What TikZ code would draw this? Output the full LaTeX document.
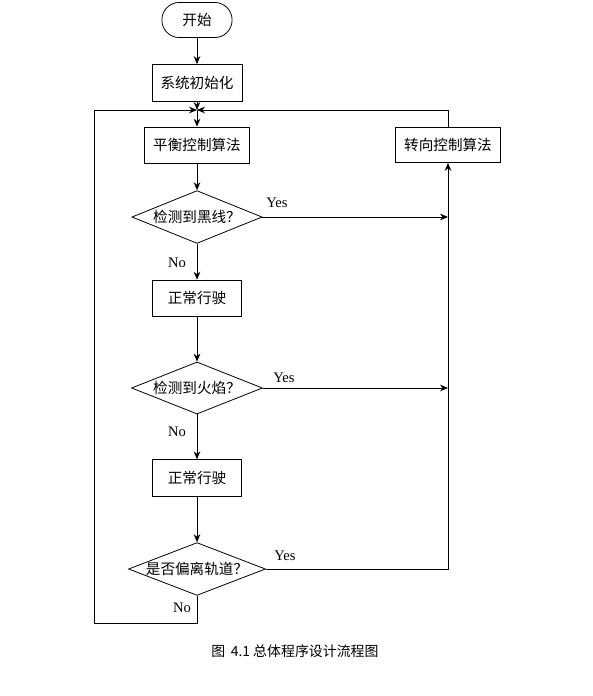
\documentclass[tikz,border=0pt]{standalone}
\usepackage{fontspec}
\setmainfont{Liberation Serif}
\newfontfamily\cjk{Noto Sans CJK SC}
\usepackage{tikz}
\usetikzlibrary{shapes.geometric, arrows.meta}

\begin{document}
\begin{tikzpicture}[x=0.0265cm, y=-0.0265cm, line width=0.6pt, >={Stealth[length=6pt,width=5pt]},
	box/.style={draw, rectangle, inner sep=0pt, font=\cjk\fontsize{11}{13}\selectfont},
	term/.style={box, rounded corners=0.46cm, minimum width=1.86cm, minimum height=0.93cm},
	test/.style={draw, diamond, inner sep=0pt, label={[font=\cjk\fontsize{11}{13}\selectfont]center:#1}},
	yesno/.style={font=\fontsize{11}{13}\selectfont}]
	\useasboundingbox (0,0) rectangle (593,696);
	\node[term] (start) at (197,20) {开始};
	\node[box, minimum width=2.39cm, minimum height=0.98cm] (init) at (197,83) {系统初始化};
	\coordinate (m) at (197,110);
	\node[box, minimum width=2.78cm, minimum height=0.95cm] (bal) at (197,145) {平衡控制算法};
	\node[box, minimum width=2.78cm, minimum height=0.93cm] (turn) at (448,145) {转向控制算法};
	\node[test=检测到黑线？, minimum width=3.45cm, minimum height=1.40cm] (d1) at (197,217) {};
	\node[box, minimum width=2.36cm, minimum height=0.95cm] (run1) at (197,298) {正常行驶};
	\node[test=检测到火焰？, minimum width=3.47cm, minimum height=1.38cm] (d2) at (197,388) {};
	\node[box, minimum width=2.36cm, minimum height=0.97cm] (run2) at (197,478) {正常行驶};
	\node[test=是否偏离轨道？, minimum width=3.63cm, minimum height=1.40cm] (d3) at (197,569) {};
	\coordinate (lb) at (94,623);
	\node[yesno] (y1) at (277,203) {Yes};
	\node[yesno] (y2) at (284,378) {Yes};
	\node[yesno] (y3) at (285,556) {Yes};
	\node[yesno] (n1) at (177,263) {No};
	\node[yesno] (n2) at (177,432) {No};
	\node[yesno] (n3) at (182,608) {No};
	\node[font=\cjk\fontsize{10.5}{12}\selectfont] (cap) at (295,651) {图 \,4.1 总体程序设计流程图};
	\draw[->] (start) -- (init);
	\draw[->] (init) -- (m);
	\draw[->] (m) -- (bal);
	\draw[->] (bal) -- (d1);
	\draw[->] (d1) -- (run1);
	\draw[->] (run1) -- (d2);
	\draw[->] (d2) -- (run2);
	\draw[->] (run2) -- (d3);
	\draw[->] (d1.east) -- (d1.east -| turn.south);
	\draw[->] (d2.east) -- (d2.east -| turn.south);
	\draw[->] (d3.east) -| (turn.south);
	\draw[->] (turn.north) |- (m);
	\draw[->] (d3.south) |- (lb) |- (m);
\end{tikzpicture}
\end{document}
